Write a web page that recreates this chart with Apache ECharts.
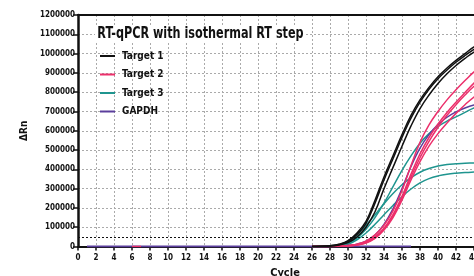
<!DOCTYPE html>
<html>
<head>
<meta charset="utf-8">
<script src="https://cdn.jsdelivr.net/npm/echarts@6/dist/echarts.min.js"></script>
<style>
html,body{margin:0;padding:0;background:#fff;}
#main{width:474px;height:276px;}
</style>
</head>
<body>
<div id="main"></div>
<script>
var cycles = [26,27,28,29,30,31,32,33,34,35,36,37,38,39,40,41,42,43,44,45,46];
var target1A = [0,1000,4000,12000,30000,70000,130000,240000,360000,470000,580000,680000,760000,825000,880000,925000,965000,1000000,1035000,1060000,1080000];
var target1B = [0,500,2000,8000,20000,50000,100000,180000,300000,410000,520000,625000,715000,785000,845000,895000,938000,975000,1008000,1030000,1045000];
var target1C = [0,800,3000,10000,26000,62000,120000,225000,345000,455000,565000,665000,748000,815000,870000,915000,955000,990000,1022000,1045000,1062000];
var target2A = [0,0,1000,2000,5000,12000,28000,60000,110000,185000,290000,420000,540000,630000,700000,760000,812000,860000,905000,940000,965000];
var target2B = [0,0,500,1000,4000,10000,22000,50000,95000,165000,260000,375000,480000,565000,635000,695000,748000,798000,847000,885000,915000];
var target2C = [0,0,0,1000,3000,8000,18000,42000,85000,150000,240000,345000,440000,520000,585000,640000,690000,735000,775000,805000,830000];
var target2D = [0,0,500,1000,3000,9000,20000,45000,90000,158000,250000,360000,460000,545000,618000,680000,735000,785000,830000,865000,890000];
var target3A = [0,1000,2000,6000,18000,45000,90000,150000,225000,310000,395000,470000,535000,585000,622000,650000,672000,695000,718000,730000,738000];
var target3B = [0,500,2000,8000,25000,60000,110000,165000,222000,275000,320000,357000,385000,404000,417000,425000,429000,432000,433000,435000,436000];
var target3C = [0,0,1000,3000,12000,35000,70000,115000,165000,213000,258000,298000,330000,352000,366000,375000,380000,383000,386000,388000,389000];
var gapdhA = [0,0,1000,2000,5000,12000,28000,60000,115000,195000,300000,415000,510000,580000,632000,670000,698000,718000,733000,742000,748000];
var gapdhFlat = [[1,0],[37,0]];
var target2Flat = [[6,0],[7,0]];
var threshold = 50000;
var xTicks = [0,2,4,6,8,10,12,14,16,18,20,22,24,26,28,30,32,34,36,38,40,42,44];

var FONT = "'Liberation Sans Narrow','DejaVu Sans Condensed','Liberation Sans',sans-serif";
var colors = {"Target 1":"#111111","Target 2":"#ec2f6b","Target 3":"#1f958f","GAPDH":"#5b3e9c"};

function pairs(ys){
    return cycles.map(function(c,i){ return [c, ys[i]]; });
}
function curve(name, ys){
    return {
        name: name,
        type: 'line',
        data: Array.isArray(ys[0]) ? ys : pairs(ys),
        showSymbol: false,
        smooth: 0.4,
        lineStyle: {color: colors[name], width: 1.5},
        itemStyle: {color: colors[name]},
        silent: true
    };
}

var series = [
    curve('GAPDH', gapdhFlat),
    curve('Target 2', target2Flat),
    curve('Target 3', target3A),
    curve('Target 3', target3B),
    curve('Target 3', target3C),
    curve('GAPDH', gapdhA),
    curve('Target 2', target2A),
    curve('Target 2', target2B),
    curve('Target 2', target2C),
    curve('Target 2', target2D),
    curve('Target 1', target1A),
    curve('Target 1', target1B),
    curve('Target 1', target1C)
];
series[0].lineStyle.width = 2;
series[0].markLine = {
    silent: true,
    symbol: 'none',
    label: {show: false},
    lineStyle: {color: '#111', type: [2,2], width: 1.2},
    data: [{yAxis: threshold}]
};

var chart = echarts.init(document.getElementById('main'));
chart.setOption({
    animation: false,
    backgroundColor: '#fff',
    graphic: [{
        type: 'text',
        left: 95,
        top: 25,
        z: 100,
        scaleX: 0.78,
        style: {
            text: 'RT-qPCR with isothermal RT step',
            font: 'bold 16px ' + FONT,
            fill: '#111',
            backgroundColor: '#fff',
            padding: [1,3]
        }
    }],
    legend: {
        orient: 'vertical',
        left: 100,
        top: 51,
        padding: 0,
        itemGap: 8.5,
        itemWidth: 15,
        itemHeight: 2,
        icon: 'rect',
        data: ['Target 1','Target 2','Target 3','GAPDH'],
        textStyle: {fontFamily: FONT, fontSize: 10, fontWeight: 'bold', color: '#111', padding: [0,0,0,2]}
    },
    grid: {left: 78, right: -18, top: 15, bottom: 29.5, outerBoundsMode: 'none'},
    xAxis: [{
        type: 'value',
        min: 0,
        max: 46,
        interval: 2,
        name: 'Cycle',
        nameLocation: 'middle',
        nameGap: 21,
        nameTextStyle: {fontFamily: FONT, fontSize: 11, fontWeight: 'bold', color: '#111'},
        axisLine: {lineStyle: {color: '#111', width: 2}},
        axisTick: {length: 4, lineStyle: {color: '#111', width: 1.5}},
        axisLabel: {
            fontFamily: FONT, fontSize: 8, fontWeight: 'bold', color: '#111', margin: 7,
            formatter: function(v){ return xTicks.indexOf(v) >= 0 ? String(v) : ''; }
        },
        splitLine: {show: true, lineStyle: {color: '#aaa', type: [2,2], width: 1}}
    }, {
        type: 'value',
        position: 'top',
        min: 0,
        max: 46,
        axisLine: {show: true, lineStyle: {color: '#111', width: 2}},
        axisTick: {show: false},
        axisLabel: {show: false},
        splitLine: {show: false}
    }],
    yAxis: {
        type: 'value',
        min: 0,
        max: 1200000,
        interval: 100000,
        name: 'ΔRn',
        nameLocation: 'middle',
        nameGap: 37,
        nameTextStyle: {fontFamily: FONT, fontSize: 10, fontWeight: 'bold', color: '#111'},
        axisLine: {show: true, lineStyle: {color: '#111', width: 2.5}},
        axisTick: {show: true, length: 5, lineStyle: {color: '#111', width: 1.5}},
        axisLabel: {
            fontFamily: FONT, fontSize: 8, fontWeight: 'bold', color: '#111', margin: 3,
            formatter: function(v){ return String(v); }
        },
        splitLine: {show: true, lineStyle: {color: '#aaa', type: [2,2], width: 1}}
    },
    series: series
});
</script>
</body>
</html>
